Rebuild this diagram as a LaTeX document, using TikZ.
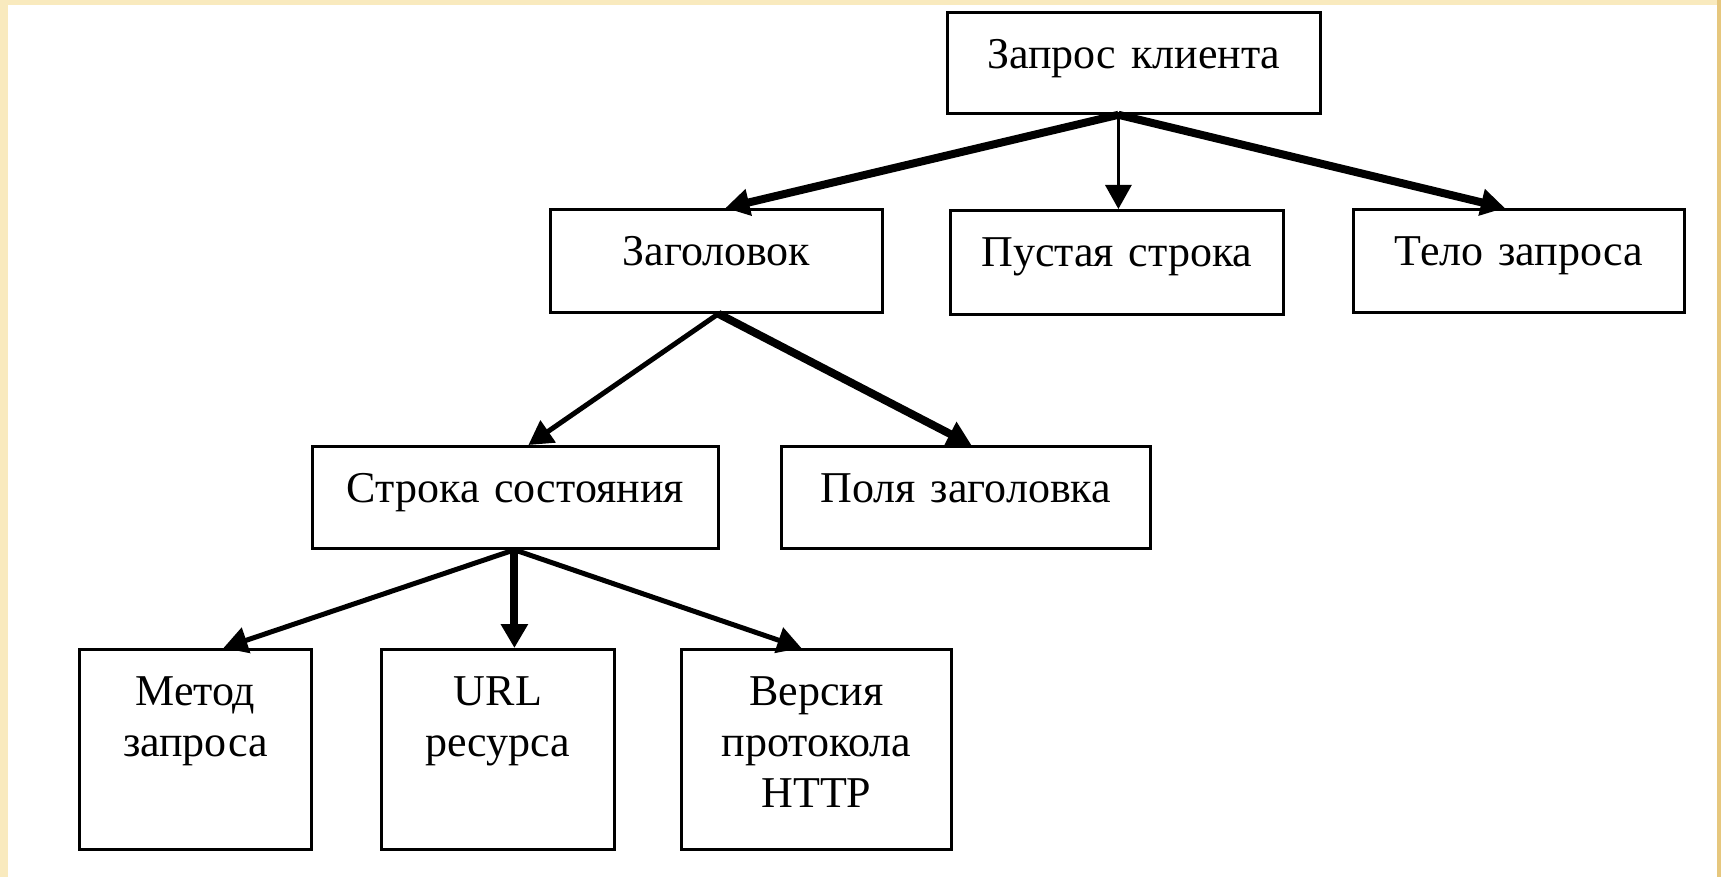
\documentclass[tikz,border=0pt]{standalone}
\usepackage{fontspec}
\setmainfont{Liberation Serif}
\usetikzlibrary{arrows.meta}

\definecolor{framegold}{RGB}{249,234,190}
\definecolor{framedark}{RGB}{230,199,126}

\begin{document}
\begin{tikzpicture}[
    x=1pt, y=-1pt,
    font=\fontsize{44}{51}\selectfont,
    cell/.style={draw, line width=2.8pt, inner sep=0pt, anchor=north west,
                 align=center, text height=56pt},
    link/.style={-{Triangle[length=24pt, width=26pt]}},
    arrlight/.style={link, line width=3pt},
    arrmid/.style={link, line width=5pt},
    arrheavy/.style={link, line width=8pt},
]

    %==================== FRAME ====================
    \useasboundingbox (0,0) rectangle (1721,877);
    \fill[framegold] (0,0) rectangle (1721,877);
    \fill[framedark] (1717,0) rectangle (1721,877);
    \fill[white] (8,5) rectangle (1717,877);

    %==================== TOP ====================
    \node[cell, text width=373pt, text depth=45pt] (root) at (946,11) {Запрос клиента};

    %==================== SECOND ROW ====================
    \node[cell, text width=332pt, text depth=47pt] (hdr) at (549,208) {Заголовок};
    \node[cell, text width=333pt, text depth=48pt] (empty) at (949,209) {Пустая строка};
    \node[cell, text width=331pt, text depth=47pt] (body) at (1352,208) {Тело запроса};

    %==================== THIRD ROW ====================
    \node[cell, text width=406pt, text depth=46pt] (status) at (311,445) {Строка состояния};
    \node[cell, text width=369pt, text depth=46pt] (fields) at (780,445) {Поля заголовка};

    %==================== BOTTOM ROW ====================
    \node[cell, text width=232pt, text depth=144pt] (method) at (78,648) {Метод\\запроса};
    \node[cell, text width=233pt, text depth=144pt] (url) at (380,648) {URL\\ресурса};
    \node[cell, text width=270pt, text depth=144pt] (ver) at (680,648) {Версия\\протокола\\HTTP};

    %==================== CONNECTORS ====================
    \draw[arrheavy] ([xshift=-15.5pt]root.south) -- ([xshift=9pt]hdr.north);
    \draw[arrlight] ([xshift=-15.5pt]root.south) -- ([xshift=-15.5pt]root.south |- empty.north);
    \draw[arrheavy] ([xshift=-15.5pt]root.south) -- ([xshift=-14pt]body.north);

    \draw[arrmid] ([xshift=2pt]hdr.south) -- ([xshift=13pt]status.north);
    \draw[arrheavy] ([xshift=2pt]hdr.south) -- ([xshift=5.5pt]fields.north);

    \draw[arrmid] ([xshift=-1pt]status.south) -- ([xshift=28pt]method.north);
    \draw[arrheavy] ([xshift=-1pt]status.south) -- ([xshift=-1pt]status.south |- url.north);
    \draw[arrmid] ([xshift=-1pt]status.south) -- ([xshift=-15pt]ver.north);

\end{tikzpicture}
\end{document}
